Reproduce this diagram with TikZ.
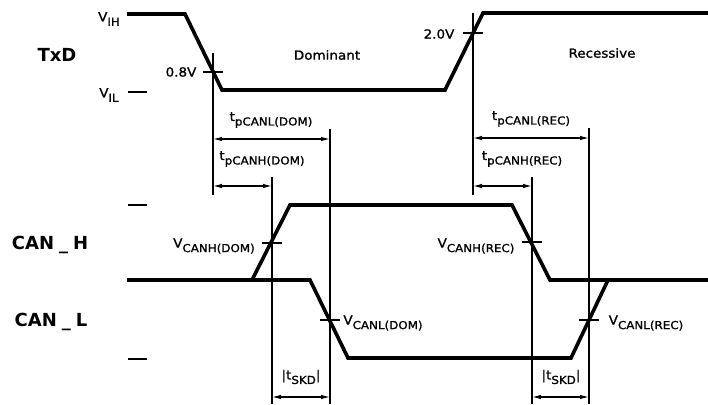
\documentclass[tikz,border=0pt]{standalone}
\usepackage{fontspec}
\setmainfont{DejaVu Sans}
\newfontfamily\lblfont[FakeStretch=1.08,FakeBold=1.2]{DejaVu Sans}
\usetikzlibrary{arrows.meta}
\newcommand\lab[2]{#1\raisebox{-4.5pt}{\fontsize{11}{11}\selectfont #2}}
\tikzset{
  wave/.style={line width=3.6pt, line join=miter},
  thin/.style={line width=1.2pt},
  tick/.style={line width=1.4pt},
  dim/.style={line width=1.2pt, {Latex[length=9pt,width=4.5pt]}-{Latex[length=9pt,width=4.5pt]}},
  txt/.style={font=\lblfont\fontsize{12.5}{13}\selectfont, inner sep=0pt},
  head/.style={font=\fontsize{18}{18}\bfseries\selectfont, inner sep=0pt},
}
\begin{document}
\begin{tikzpicture}[x=1pt,y=-1pt]
\useasboundingbox (0,0) rectangle (708,404);
% TxD waveform
\coordinate (t0) at (127,14);
\coordinate (t1) at (185,14);
\coordinate (t2) at (222,90);
\coordinate (t3) at (445,90);
\coordinate (t4) at (483,13);
\coordinate (t5) at (708,13);
\draw[wave] (t0) -- (t1) -- (t2) -- (t3) -- (t4) -- (t5);
% CAN_H
\coordinate (h0) at (127,280);
\coordinate (h1) at (252,280);
\coordinate (h2) at (290,205);
\coordinate (h3) at (512,205);
\coordinate (h4) at (550,280);
\coordinate (h5) at (708,280);
\draw[wave] (h0) -- (h1) -- (h2) -- (h3) -- (h4) -- (h5);
% CAN_L
\coordinate (l1) at (310,280);
\coordinate (l2) at (348,358);
\coordinate (l3) at (571,358);
\coordinate (l4) at (608,280);
\draw[wave] (h1) -- (l1) -- (l2) -- (l3) -- (l4) -- (h5);
% reference verticals
\coordinate (a1) at (213,53);  \coordinate (a2) at (213,195);
\coordinate (b1) at (272,177); \coordinate (b2) at (272,404);
\coordinate (c1) at (330,129); \coordinate (c2) at (330,404);
\coordinate (d1) at (473,13);  \coordinate (d2) at (473,195);
\coordinate (e1) at (532,177); \coordinate (e2) at (532,404);
\coordinate (f1) at (589,128); \coordinate (f2) at (589,404);
\draw[thin] (a1) -- (a2) (b1) -- (b2) (c1) -- (c2) (d1) -- (d2) (e1) -- (e2) (f1) -- (f2);
% crossing ticks
\coordinate (x1) at (213,72); \coordinate (x2) at (473,33);
\coordinate (x3) at (272,243); \coordinate (x4) at (532,242);
\coordinate (x5) at (330,320); \coordinate (x6) at (589,320);
\foreach \p in {x1,x2,x3,x4,x5,x6}
  \draw[tick] ([xshift=-10pt]\p) -- ([xshift=10pt]\p);
% level dashes
\coordinate (vl1) at (128,92); \coordinate (vl2) at (147,92);
\coordinate (ch1) at (128,205); \coordinate (ch2) at (147,205);
\coordinate (cl1) at (128,359); \coordinate (cl2) at (147,359);
\draw[tick] (vl1) -- (vl2) (ch1) -- (ch2) (cl1) -- (cl2);
% dimension arrows
\coordinate (p1) at (213,139); \coordinate (p2) at (330,139);
\coordinate (p3) at (213,186); \coordinate (p4) at (272,186);
\coordinate (p5) at (473,138); \coordinate (p6) at (589,138);
\coordinate (p7) at (473,186); \coordinate (p8) at (532,186);
\coordinate (s1) at (272,397); \coordinate (s2) at (330,397);
\coordinate (s3) at (532,397); \coordinate (s4) at (589,397);
\draw[dim] (p1) -- (p2);
\draw[dim] (p3) -- (p4);
\draw[dim] (p5) -- (p6);
\draw[dim] (p7) -- (p8);
\draw[dim] (s1) -- (s2);
\draw[dim] (s3) -- (s4);
% labels
\node[head] (txd) at (57,55) {TxD};
\node[head] (canh) at (50,245) {CAN\;\_\;H};
\node[head] (canl) at (51,322) {CAN\;\_\;L};
\node[txt] (vih) at (109,19) {\lab{V}{IH}};
\node[txt] (vil) at (109,95) {\lab{V}{IL}};
\node[txt] (v08) at (181,72) {0.8V};
\node[txt] (v20) at (439,34) {2.0V};
\node[txt] (dom) at (327,55) {Dominant};
\node[txt] (rec) at (602,53) {Recessive};
\node[txt] (tlD) at (271,120) {\lab{t}{pCANL(DOM)}};
\node[txt] (thD) at (262,159) {\lab{t}{pCANH(DOM)}};
\node[txt] (tlR) at (531,119) {\lab{t}{pCANL(REC)}};
\node[txt] (thR) at (522,159) {\lab{t}{pCANH(REC)}};
\node[txt] (vhD) at (214,246) {\lab{V}{CANH(DOM)}};
\node[txt] (vlD) at (383,323) {\lab{V}{CANL(DOM)}};
\node[txt] (vhR) at (476,246) {\lab{V}{CANH(REC)}};
\node[txt] (vlR) at (646,323) {\lab{V}{CANL(REC)}};
\node[txt] (sk1) at (301,377) {|\lab{t}{SKD}|};
\node[txt] (sk2) at (561,377) {|\lab{t}{SKD}|};
\end{tikzpicture}
\end{document}
